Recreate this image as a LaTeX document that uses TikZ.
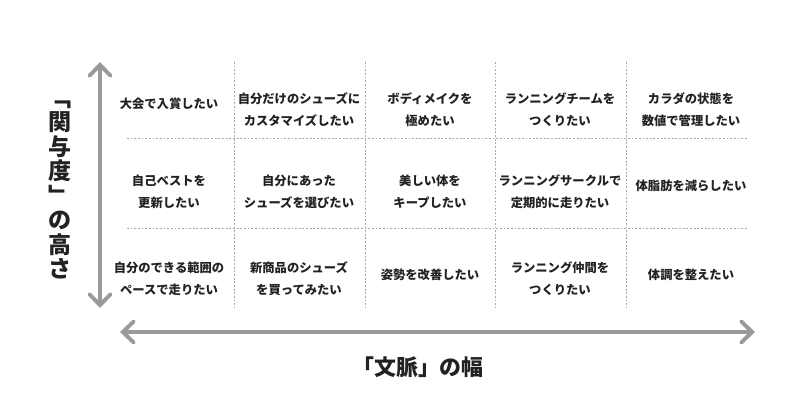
\documentclass[tikz,border=0pt]{standalone}
\usepackage{fontspec}
\setmainfont{Noto Sans CJK JP}
\usepackage{tikz}
\usetikzlibrary{arrows.meta,positioning}
\usepackage{xcolor}
\definecolor{axisgray}{HTML}{9A9A9A}
\definecolor{gridgray}{HTML}{A8A8A8}
\definecolor{inkdark}{HTML}{222222}
\tikzset{
  cell/.style={
    align=center,
    inner sep=0pt,
    text=inkdark,
    font=\fontsize{8.75pt}{15.6pt}\selectfont\bfseries
  },
  gridline/.style={
    draw=gridgray,
    line width=0.5pt,
    dash pattern=on 1.3pt off 1.3pt
  },
  axisarrow/.style={
    {Straight Barb[length=2.7mm,width=5.2mm,line cap=round]}-{Straight Barb[length=2.7mm,width=5.2mm,line cap=round]},
    line width=2.8pt,
    draw=axisgray
  },
  axislabel/.style={
    align=center,
    inner sep=0pt,
    text=inkdark,
    font=\fontsize{15.6pt}{17.4pt}\selectfont\bfseries
  }
}

\begin{document}
\begin{tikzpicture}[x=0.025cm, y=-0.025cm]
\useasboundingbox (0,0) rectangle (800,419);
% grid
\foreach \x in {234,365,495,626}
  \draw[gridline] (\x,62) -- (\x,307);
\foreach \y in {138,228}
  \draw[gridline] (127,\y) -- (747,\y);
% top row
\node[cell] (r1c1) at (169,104) {大会で入賞したい};
\node[cell] (r1c2) at (299,110) {自分だけのシューズに\\カスタマイズしたい};
\node[cell] (r1c3) at (430,110) {ボディメイクを\\極めたい};
\node[cell] (r1c4) at (560,110) {ランニングチームを\\つくりたい};
\node[cell] (r1c5) at (691,110) {カラダの状態を\\数値で管理したい};
% middle row
\node[cell] (r2c1) at (169,192) {自己ベストを\\更新したい};
\node[cell] (r2c2) at (299,192) {自分にあった\\シューズを選びたい};
\node[cell] (r2c3) at (430,192) {美しい体を\\キープしたい};
\node[cell] (r2c4) at (560,192) {ランニングサークルで\\定期的に走りたい};
\node[cell] (r2c5) at (691,186) {体脂肪を減らしたい};
% bottom row
\node[cell] (r3c1) at (169,279) {自分のできる範囲の\\ペースで走りたい};
\node[cell] (r3c2) at (299,279) {新商品のシューズ\\を買ってみたい};
\node[cell] (r3c3) at (430,275) {姿勢を改善したい};
\node[cell] (r3c4) at (560,279) {ランニング仲間を\\つくりたい};
\node[cell] (r3c5) at (691,275) {体調を整えたい};
% axes
\coordinate (ytop) at (100,62);
\coordinate (ybot) at (100,308);
\coordinate (xleft) at (120,332);
\coordinate (xright) at (755,332);
\draw[axisarrow] (ybot) -- (ytop);
\draw[axisarrow] (xleft) -- (xright);
\node[axislabel, font=\fontsize{16.4pt}{17.4pt}\selectfont\bfseries] (ylabel) at (60,190) {﹁\\関\\与\\度\\﹂\\の\\高\\さ};
\node[axislabel] (xlabel) at (418,367) {「文脈」の幅};
\end{tikzpicture}
\end{document}
